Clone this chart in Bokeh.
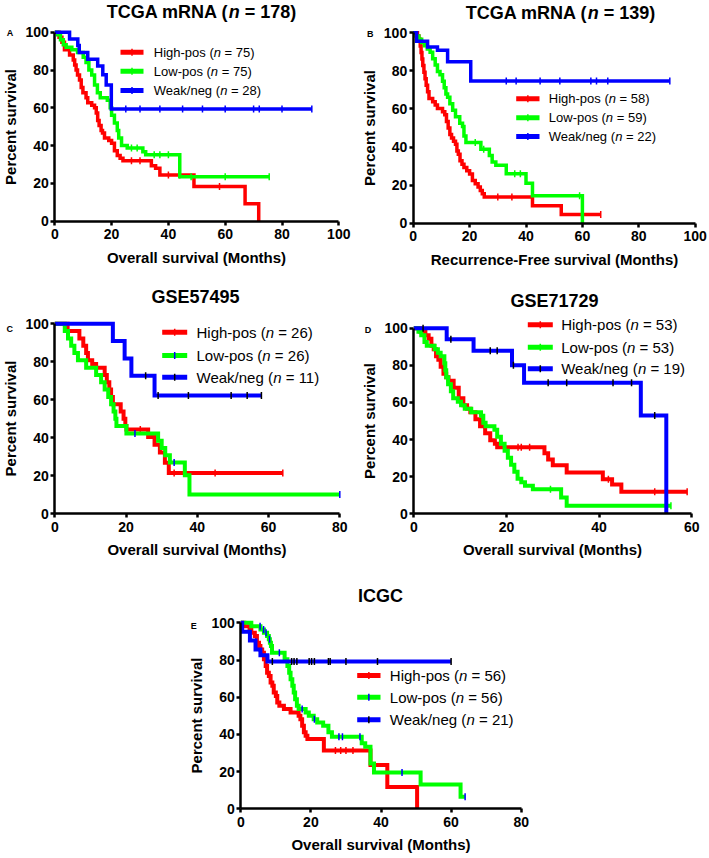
import numpy as np
from bokeh.plotting import figure
from bokeh.models import Range1d, Label, FixedTicker, Spacer, LinearAxis
from bokeh.layouts import column, row
from bokeh.embed import file_html
from bokeh.resources import INLINE

# ---------------- data ----------------
GROUPS = ["High-pos", "Low-pos", "Weak/neg"]
Y_TICKS = [0, 20, 40, 60, 80, 100]

# Panel A: TCGA mRNA (n = 178), overall survival
A_N = [75, 75, 28]
A_XTICKS = [0, 20, 40, 60, 80, 100]
A_HIGH_T = [0, 1.5, 2.5, 3.4, 5.2, 6.5, 7, 7.5, 8, 8.7, 9.3, 9.9, 11, 11.6, 13, 14, 14.6, 15.1, 15.6, 16.3,
            16.8, 17.5, 19, 20, 21, 22, 23, 24, 34, 35.5, 37, 49, 67, 71.8]
A_HIGH_S = [100, 97.3, 94.7, 90.7, 88, 85.3, 82.7, 80, 77.3, 74.7, 70.7, 68, 65.3, 62.7, 61.3, 60, 57.3, 53.3,
            50.7, 48, 46.7, 44, 42.7, 41.3, 37.3, 34.7, 33.3, 32, 29.3, 28, 24.5, 18.4, 9.2, 0]
A_HIGH_END = 71.8
A_HIGH_CENS = [27, 30, 40, 44, 58]
A_LOW_T = [0, 1, 2, 3, 4, 6, 8, 10, 11, 12, 13, 14, 15, 16, 18.5, 19.5, 20, 21, 22, 22.5, 23.5, 25.5, 31, 32, 44]
A_LOW_S = [100, 98.7, 96, 93.3, 92, 90.7, 89.3, 86.7, 84, 80, 77.3, 72, 68, 65.3, 64, 60, 56, 52, 48, 44, 40, 38.7,
           36.8, 35.2, 23.5]
A_LOW_END = 75.5
A_LOW_CENS = [27, 29, 35, 37, 40, 48, 60, 75.5]
A_WEAK_T = [0, 5.2, 8.1, 8.6, 11.6, 15.1, 16.9, 18.1, 19.9]
A_WEAK_S = [100, 96.4, 92.9, 89.3, 85.7, 82.1, 77.5, 72, 59.3]
A_WEAK_END = 90.5
A_WEAK_CENS = [25, 30, 37, 45, 52, 60, 70, 72, 80, 90.5]

# Panel B: TCGA mRNA (n = 139), recurrence-free survival
B_N = [58, 59, 22]
B_XTICKS = [0, 20, 40, 60, 80, 100]
B_HIGH_T = [0, 1.5, 2, 2.5, 2.8, 3.1, 3.4, 3.8, 4.2, 4.6, 5.1, 5.6, 6.9, 7.8, 8.6, 10.4, 11.2, 11.8, 12.4, 13,
            13.6, 14.3, 15, 15.5, 16, 16.6, 17.3, 18, 19, 20, 21, 22, 23, 23.8, 24.5, 25.2, 42.3, 52.5]
B_HIGH_S = [100, 98.3, 96.6, 93.1, 89.7, 86.2, 82.8, 79.3, 75.9, 72.4, 69, 65.5, 63.8, 62.1, 60.3, 58.6, 56.9,
            53.4, 50, 46.6, 44.8, 43.1, 41.4, 37.9, 36.2, 32.8, 31, 29.3, 27.6, 25.9, 22.4, 20.7, 19, 17.2, 15.5,
            13.8, 9.2, 4.6]
B_HIGH_END = 66.5
B_HIGH_CENS = [30, 35, 66.5]
B_LOW_T = [0, 1, 2, 3, 4, 5, 6, 6.9, 7.8, 8.6, 9.5, 10.4, 11, 11.6, 12.2, 13, 14, 15, 16.5, 17.5,
           18, 18.7, 24, 27, 28, 29.3, 33, 40, 42.3, 60]
B_LOW_S = [100, 98.3, 96.6, 94.9, 93.2, 91.5, 89.8, 86.4, 83.1, 79.7, 78, 74.6, 71.2, 67.8, 66.1, 62.7, 59.3,
           55.9, 52.5, 50.8, 45.8, 42.4, 38.9, 35.6, 32.2, 30.5, 26, 21, 14.4, 0]
B_LOW_END = 60
B_LOW_CENS = [22, 25, 36, 38, 59]
B_WEAK_T = [0, 1.2, 5.1, 8.6, 12.2, 20.4]
B_WEAK_S = [100, 95.5, 92.5, 90.9, 84.8, 74.7]
B_WEAK_END = 91
B_WEAK_CENS = [33, 36.5, 45, 52, 63, 65, 69, 91]

# Panel C: GSE57495
C_N = [26, 26, 11]
C_XTICKS = [0, 20, 40, 60, 80]
C_HIGH_T = [0, 3.6, 6.9, 8, 8.8, 9.3, 10.5, 11.6, 14, 14.6, 15.3, 15.8, 16.3, 18.5, 19.3, 19.8, 20.1, 26.2, 28,
            29.5, 30.9, 32]
C_HIGH_S = [100, 96.2, 92.3, 88.5, 84.6, 80.8, 78.8, 76.9, 73.1, 69.2, 65.4, 61.5, 57.7, 53.8, 50, 46.2, 44.4,
            40.4, 36.4, 32.3, 26.9, 21.5]
C_HIGH_END = 64
C_HIGH_CENS = [24, 33.5, 45, 64]
C_LOW_T = [0, 2.8, 3.7, 4.6, 5.5, 6.5, 8.8, 11.6, 13, 14, 15, 15.8, 16.5, 17, 17.3, 20.1, 29, 30, 31, 32.3,
           36.5, 37.8]
C_LOW_S = [100, 96.2, 92.3, 88.5, 84.6, 80.8, 76.9, 73.1, 69.2, 65.4, 61.5, 57.7, 53.8, 50, 46.2, 42.3, 38.5, 34.6,
           30.8, 27, 20.3, 10.2]
C_LOW_END = 80
C_LOW_CENS = [22.5, 33.5, 80]
C_WEAK_T = [0, 16.3, 19.6, 21.5, 28]
C_WEAK_S = [100, 90.9, 81.8, 72.7, 62.3]
C_WEAK_END = 58
C_WEAK_CENS = [25.5, 29, 37.5, 49.5, 54, 58]

# Panel D: GSE71729
D_N = [53, 53, 19]
D_XTICKS = [0, 20, 40, 60]
D_HIGH_T = [0, 1.4, 2.5, 3.2, 3.8, 4.3, 4.8, 5.3, 5.8, 6.4, 7, 7.5, 8.6, 9.7, 10.7, 11.5, 12.2, 13.3, 14.3, 15.4,
            16.5, 17.5, 18, 28.2, 29, 30, 33, 40.8, 42.8, 44.8]
D_HIGH_S = [100, 98.1, 96.2, 94.3, 90.6, 88.7, 84.9, 83, 79.2, 75.5, 73.6, 71.7, 67.9, 62.3, 58.5, 56.6, 54.7,
            50.9, 47.2, 43.4, 39.6, 37.7, 35.8, 32.6, 29.3, 26.1, 22.3, 18.6, 15.8, 11.9]
D_HIGH_END = 59
D_HIGH_CENS = [22.5, 23.2, 25, 42, 52, 59]
D_LOW_T = [0, 1, 1.6, 2.3, 2.8, 4.5, 5.2, 5.8, 6.6, 6.8, 7, 7.4, 8, 8.5, 9.5, 10.2, 11, 12.4, 14.5, 15,
           15.5, 17.4, 18, 18.8, 19.6, 20.3, 21, 21.7, 22.4, 23.2, 24, 25.7, 31.8, 33]
D_LOW_S = [100, 98.1, 96.2, 92.5, 90.6, 88.7, 86.8, 84.9, 81.1, 77.4, 73.6, 69.8, 66, 62.3, 60.4, 58.5, 56.6, 54.7,
           52.8, 49.1, 47.2, 45.3, 41.5, 37.7, 34, 30.2, 26.4, 22.6, 18.9, 17, 15.1, 13.2, 8.8, 4.4]
D_LOW_END = 55.5
D_LOW_CENS = [29.5, 55.5]
D_WEAK_T = [0, 7.1, 12.9, 21.2, 23.8, 49, 54.5]
D_WEAK_S = [100, 94.1, 87.8, 80, 70.6, 53, 0]
D_WEAK_END = 54.5
D_WEAK_CENS = [2, 8, 16.5, 18, 21.5, 29, 33, 43, 47, 52]

# Panel E: ICGC
E_N = [56, 56, 21]
E_XTICKS = [0, 20, 40, 60, 80]
E_HIGH_T = [0, 1, 2.5, 3, 4, 4.6, 5.2, 5.6, 6.1, 6.6, 7.1, 7.5, 8, 8.5, 9, 9.4, 10, 10.4, 11, 12.3,
            14.2, 16.5, 17, 17.5, 18, 18.5, 19, 23.7, 37, 41.8, 50.3]
E_HIGH_S = [100, 98.2, 96.4, 94.6, 92.9, 89.3, 87.5, 85.7, 83.9, 80.4, 76.8, 73.2, 71.4, 67.9, 66.1, 62.5, 60.7,
            57.1, 55.4, 53.6, 51.8, 50, 48.2, 44.6, 41.1, 39.3, 37.5, 31.3, 23.5, 11.7, 0]
E_HIGH_END = 50.3
E_HIGH_CENS = [27, 28.5, 30, 32]
E_LOW_T = [0, 3, 5.6, 6.6, 7.5, 8, 8.3, 8.6, 8.9, 12.5, 13.3, 13.8, 14.2, 14.7, 15.1, 15.5, 16, 16.5, 18.5, 19.4,
           20.8, 21.8, 23.5, 25, 26, 34.5, 35.5, 37, 38, 51.3, 62.7]
E_LOW_S = [100, 98.2, 96.4, 94.6, 92.9, 91.1, 89.3, 87.5, 83.9, 80.4, 76.8, 73.2, 69.6, 66.1, 62.5, 58.9, 55.4,
           53.6, 51.8, 50, 48.2, 46.4, 44.6, 41.1, 38.7, 35.2, 33.4, 24.4, 19.5, 13, 6.5]
E_LOW_END = 64
E_LOW_CENS = [5.5, 6.5, 7.2, 8.2, 11, 17.5, 21, 28, 29, 34, 46, 64]
E_WEAK_T = [0, 0.4, 2.6, 4.2, 5.6, 7.6]
E_WEAK_S = [100, 95.2, 90.5, 85.7, 82.5, 79.2]
E_WEAK_END = 60
E_WEAK_CENS = [9, 14.5, 15.2, 16, 19.5, 20.2, 21, 25, 25.5, 30, 39, 60]

# ---------------- styling ----------------
FONT = "Liberation Sans"
RED, GREEN, BLUE, BLACK = "#ff0000", "#00ff00", "#0000ff", "#000000"

REG_W = {' ': 278, '(': 333, ')': 333, '-': 333, '/': 278, '=': 584,
         'H': 722, 'L': 556, 'W': 944, 'a': 556, 'e': 556, 'g': 556, 'h': 556, 'i': 222, 'k': 500,
         'n': 556, 'o': 556, 'p': 556, 's': 500, 'w': 722}
BOLD_W = {' ': 278, '(': 333, ')': 333, '-': 333, '=': 584, 'A': 722, 'C': 722, 'E': 667, 'G': 778,
          'I': 278, 'M': 833, 'N': 722, 'R': 722, 'S': 667, 'T': 611, 'm': 889, 'n': 611}


def text_w(s, size, bold):
    tab = BOLD_W if bold else REG_W
    return sum(tab.get(c, 556) for c in s) * size / 1000.0


def rich_text(p, parts, size, bold, dx, dy, align="left"):
    """parts: list of (text, italic); dx/dy px offsets from data point (0, 100), dy positive = down"""
    widths = [text_w(s, size, bold) for s, _ in parts]
    x = dx - sum(widths) / 2.0 if align == "center" else dx
    for (s, it), w in zip(parts, widths):
        lead = len(s) - len(s.lstrip(" "))
        core = s.strip(" ")
        if core:
            style = ("bold italic" if it else "bold") if bold else ("italic" if it else "normal")
            p.add_layout(Label(x=0, y=100, x_offset=x + text_w(" " * lead, size, bold), y_offset=-dy,
                               text=core, text_font=FONT, text_font_size=f"{size}px",
                               text_font_style=style, text_align="left", text_baseline="middle",
                               text_color=BLACK))
        x += w


def surv_at(t, s, ct):
    idx = np.searchsorted(np.asarray(t), np.asarray(ct), side="right") - 1
    return np.asarray(s)[idx]


def style_axis(ax):
    ax.axis_line_width = 2.5
    ax.axis_line_color = BLACK
    ax.major_tick_line_width = 2.5
    ax.major_tick_line_color = BLACK
    ax.major_tick_out = 4
    ax.major_tick_in = 0
    ax.minor_tick_line_color = None
    ax.major_label_text_font = FONT
    ax.major_label_text_font_style = "bold"
    ax.major_label_text_font_size = "14px"
    ax.major_label_text_color = BLACK
    ax.axis_label_text_font = FONT
    ax.axis_label_text_font_style = "bold"
    ax.axis_label_text_font_size = "15px"
    ax.axis_label_text_color = BLACK


def make_panel(cfg):
    # the frame covers the whole figure; x = 0 sits L px from the left, y = 0 sits Y0 px from the top
    W, H, L, Y0 = cfg["W"], cfg["H"], cfg["L"], cfg["Y0"]
    pxx, pxy = cfg["px_x"], cfg["px_y"]
    p = figure(width=W, height=H, title=None,
               x_range=Range1d(-L / pxx, (W - L) / pxx), y_range=Range1d(-(H - Y0) / pxy, Y0 / pxy),
               output_backend="svg", toolbar_location=None,
               x_axis_location=None, y_axis_location=None,
               min_border=0, min_border_left=0, min_border_right=0, min_border_top=0, min_border_bottom=0)
    p.outline_line_color = None
    p.xgrid.visible = False
    p.ygrid.visible = False
    p.background_fill_color = "white"
    p.border_fill_color = "white"

    xa = LinearAxis(fixed_location=0)
    ya = LinearAxis(fixed_location=0)
    style_axis(xa)
    style_axis(ya)
    xa.ticker = FixedTicker(ticks=cfg["xticks"])
    xa.bounds = (0, cfg["xticks"][-1])
    xa.axis_label = cfg["xlabel"]
    xa.major_label_standoff = 4
    xa.axis_label_standoff = 6
    ya.ticker = FixedTicker(ticks=Y_TICKS)
    ya.bounds = (0, 100)
    ya.axis_label = "Percent survival"
    ya.major_label_standoff = 2
    ya.axis_label_standoff = 3
    p.add_layout(xa, "below")
    p.add_layout(ya, "left")

    lw = cfg["lw"]
    for (t, s, end, cens, lc, mc) in cfg["curves"]:
        xs = list(t) + [end]
        ys = list(s) + [s[-1]]
        p.step(xs, ys, mode="after", line_width=lw, line_color=lc, line_join="miter")
        cy = surv_at(t, s, cens)
        p.scatter(cens, cy, marker="dash", angle=np.pi / 2, size=7, line_color=mc, line_width=1.5)

    # legend
    x0, x1 = cfg["leg_x0"] / pxx, cfg["leg_x1"] / pxx
    for i, (name, n) in enumerate(zip(GROUPS, cfg["n"])):
        dy = cfg["leg_rows"][i]
        yv = 100 - dy / pxy
        lc, mc = cfg["curves"][i][4], cfg["curves"][i][5]
        p.line([x0, x1], [yv, yv], line_width=5, line_color=lc)
        p.scatter([(x0 + x1) / 2], [yv], marker="dash", angle=np.pi / 2, size=7, line_color=mc, line_width=1.5)
        rich_text(p, [(f"{name} (", False), ("n", True), (f" = {n})", False)], cfg["leg_size"], False,
                  cfg["leg_tx"], dy)

    # title
    rich_text(p, cfg["title"], 18, True, cfg["title_dx"], cfg["title_dy"], align="center")
    # panel letter
    rich_text(p, [(cfg["letter"], False)], 9, True, cfg["letter_dx"], cfg["letter_dy"], align="center")
    return p


pA = make_panel(dict(
    W=354, H=280, L=54.3, Y0=220.7, px_x=2.84, px_y=1.89, xticks=A_XTICKS,
    xlabel="Overall survival (Months)", n=A_N, lw=3.5,
    curves=[(A_HIGH_T, A_HIGH_S, A_HIGH_END, A_HIGH_CENS, RED, RED),
            (A_LOW_T, A_LOW_S, A_LOW_END, A_LOW_CENS, GREEN, GREEN),
            (A_WEAK_T, A_WEAK_S, A_WEAK_END, A_WEAK_CENS, BLUE, BLUE)],
    leg_x0=65.7, leg_x1=88.7, leg_tx=99, leg_rows=[20, 39, 58.3], leg_size=13,
    title=[("TCGA mRNA (", False), ("n", True), (f" = {sum(A_N)})", False)], title_dx=146.7, title_dy=-20.7,
    letter="A", letter_dx=-44.8, letter_dy=0.3))

pB = make_panel(dict(
    W=354, H=280, L=58.7, Y0=222.7, px_x=2.82, px_y=1.904, xticks=B_XTICKS,
    xlabel="Recurrence-Free survival (Months)", n=B_N, lw=3.5,
    curves=[(B_HIGH_T, B_HIGH_S, B_HIGH_END, B_HIGH_CENS, RED, RED),
            (B_LOW_T, B_LOW_S, B_LOW_END, B_LOW_CENS, GREEN, GREEN),
            (B_WEAK_T, B_WEAK_S, B_WEAK_END, B_WEAK_CENS, BLUE, BLUE)],
    leg_x0=103, leg_x1=126.3, leg_tx=135.6, leg_rows=[66, 85, 103.7], leg_size=13,
    title=[("TCGA mRNA (", False), ("n", True), (f" = {sum(B_N)})", False)], title_dx=147.3, title_dy=-19.8,
    letter="B", letter_dx=-43.7, letter_dy=0.7))

pC = make_panel(dict(
    W=354, H=280, L=54.3, Y0=233.3, px_x=3.5625, px_y=1.9, xticks=C_XTICKS,
    xlabel="Overall survival (Months)", n=C_N, lw=4,
    curves=[(C_HIGH_T, C_HIGH_S, C_HIGH_END, C_HIGH_CENS, RED, RED),
            (C_LOW_T, C_LOW_S, C_LOW_END, C_LOW_CENS, GREEN, BLUE),
            (C_WEAK_T, C_WEAK_S, C_WEAK_END, C_WEAK_CENS, BLUE, BLACK)],
    leg_x0=107.4, leg_x1=132.4, leg_tx=141.7, leg_rows=[8.4, 31.7, 53.4], leg_size=15,
    title=[("GSE57495", False)], title_dx=140.7, title_dy=-26.6,
    letter="C", letter_dx=-45, letter_dy=5))

pD = make_panel(dict(
    W=354, H=280, L=59.3, Y0=233.3, px_x=4.633, px_y=1.856, xticks=D_XTICKS,
    xlabel="Overall survival (Months)", n=D_N, lw=4,
    curves=[(D_HIGH_T, D_HIGH_S, D_HIGH_END, D_HIGH_CENS, RED, RED),
            (D_LOW_T, D_LOW_S, D_LOW_END, D_LOW_CENS, GREEN, GREEN),
            (D_WEAK_T, D_WEAK_S, D_WEAK_END, D_WEAK_CENS, BLUE, BLACK)],
    leg_x0=114, leg_x1=139, leg_tx=147.4, leg_rows=[-3.4, 19, 40.6], leg_size=15,
    title=[("GSE71729", False)], title_dx=140.7, title_dy=-27.7,
    letter="D", letter_dx=-46.6, letter_dy=1.3))

pE = make_panel(dict(
    W=360, H=297, L=60.3, Y0=248.3, px_x=3.505, px_y=1.86, xticks=E_XTICKS,
    xlabel="Overall survival (Months)", n=E_N, lw=4,
    curves=[(E_HIGH_T, E_HIGH_S, E_HIGH_END, E_HIGH_CENS, RED, RED),
            (E_LOW_T, E_LOW_S, E_LOW_END, E_LOW_CENS, GREEN, BLUE),
            (E_WEAK_T, E_WEAK_S, E_WEAK_END, E_WEAK_CENS, BLUE, BLACK)],
    leg_x0=116.4, leg_x1=139.7, leg_tx=149, leg_rows=[52.7, 74.4, 97], leg_size=15,
    title=[("ICGC", False)], title_dx=139.7, title_dy=-27.3,
    letter="E", letter_dx=-47, letter_dy=3.4))

layout = column(row(pA, pB), row(pC, pD), row(Spacer(width=180, height=297), pE))
open("out.html", "w").write(file_html(layout, INLINE))
